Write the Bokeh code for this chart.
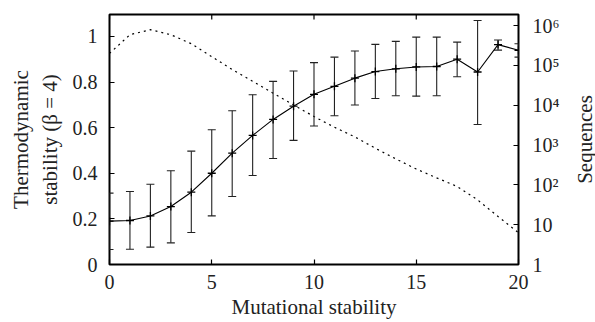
import math
from bokeh.plotting import figure
from bokeh.models import (Range1d, LogAxis, LogScale, FixedTicker, Label,
                          CustomJSTickFormatter, ColumnDataSource)
from bokeh.embed import file_html
from bokeh.resources import INLINE

# ---- data ----
mut_stab = list(range(21))
thermo_mean = [0.190, 0.193, 0.213, 0.254, 0.317, 0.400, 0.488, 0.566, 0.636, 0.694,
               0.746, 0.781, 0.817, 0.846, 0.858, 0.866, 0.868, 0.900, 0.844, 0.964, 0.939]
thermo_low = [0.066, 0.067, 0.076, 0.095, 0.140, 0.213, 0.298, 0.390, 0.465, 0.544,
              0.607, 0.652, 0.699, 0.728, 0.740, 0.738, 0.740, 0.823, 0.614, 0.940, 0.909]
thermo_high = [0.313, 0.320, 0.352, 0.411, 0.497, 0.591, 0.674, 0.744, 0.803, 0.848,
               0.885, 0.909, 0.936, 0.965, 0.978, 0.997, 0.997, 0.975, 1.070, 0.984, 0.968]
sequences = [2.0e5, 5.9e5, 7.9e5, 5.9e5, 3.5e5, 1.66e5, 7.9e4, 4.0e4, 2.0e4, 1.02e4,
             5.2e3, 2.8e3, 1.6e3, 830, 450, 250, 150, 91, 42, 16, 6.3]

left_ticks = [0, 0.2, 0.4, 0.6, 0.8, 1.0]
right_ticks = [1, 10, 100, 1e3, 1e4, 1e5, 1e6]
x_ticks = [0, 5, 10, 15, 20]

X_MAX = 20
Y_MAX = 1.096
SEQ_MIN, SEQ_MAX = 1, 1.9e6

FONT = "Liberation Serif"
INK = "#222222"

src = ColumnDataSource(dict(x=mut_stab, m=thermo_mean, lo=thermo_low, hi=thermo_high,
                            s=sequences))

p = figure(width=595, height=322, output_backend="svg", toolbar_location=None,
           x_range=Range1d(0, X_MAX), y_range=Range1d(0, Y_MAX),
           min_border_left=109, min_border_right=77, min_border_top=14,
           min_border_bottom=58)
p.extra_y_ranges = {"seq": Range1d(SEQ_MIN, SEQ_MAX)}
p.extra_y_scales = {"seq": LogScale()}
p.xgrid.visible = False
p.ygrid.visible = False
p.outline_line_color = "black"
p.outline_line_width = 2
p.background_fill_color = "white"
p.border_fill_color = "white"

def style(ax):
    ax.axis_line_color = None
    ax.major_tick_in = 5
    ax.major_tick_out = 0
    ax.minor_tick_in = 0
    ax.minor_tick_out = 0
    ax.major_tick_line_color = "black"
    ax.major_tick_line_width = 1.2
    ax.major_label_text_font = FONT
    ax.major_label_text_font_size = "20px"
    ax.major_label_text_color = INK
    ax.axis_label_text_font = FONT
    ax.axis_label_text_font_size = "21px"
    ax.axis_label_text_font_style = "normal"
    ax.axis_label_text_color = INK

# bottom x axis
xa = p.xaxis[0]
style(xa)
xa.ticker = FixedTicker(ticks=x_ticks)
xa.axis_label = "Mutational stability"
xa.major_label_standoff = 10
xa.axis_label_standoff = 3

# left y axis
ya = p.yaxis[0]
style(ya)
ya.ticker = FixedTicker(ticks=left_ticks)
ya.formatter = CustomJSTickFormatter(code="""
    const s = tick.toFixed(1);
    return s.endsWith('.0') ? s.slice(0, -2) : s;
""")
ya.axis_label = "Thermodynamic\nstability (\u03b2 = 4)"
ya.major_label_standoff = 12
ya.axis_label_standoff = 8

# right log axis
ra = LogAxis(y_range_name="seq", ticker=FixedTicker(ticks=right_ticks))
style(ra)
ra.formatter = CustomJSTickFormatter(code="""
    const e = Math.round(Math.log10(tick));
    const sup = ['\u2070','\u00b9','\u00b2','\u00b3','\u2074','\u2075','\u2076'];
    if (e == 0) return '1';
    if (e == 1) return '10';
    return '10' + sup[e];
""")
ra.major_label_standoff = 14
p.add_layout(ra, "right")

# right axis title, reading bottom-to-top (kept in the side panel so it is not clipped)
p.add_layout(Label(x=X_MAX, y=Y_MAX / 2, x_offset=66, text="Sequences",
                   angle=math.pi / 2, text_align="center", text_baseline="middle",
                   text_font=FONT, text_font_size="21px", text_color=INK), "right")

# mirrored x ticks along the top edge (inward, half clipped by the frame)
p.scatter(x=x_ticks, y=[Y_MAX] * len(x_ticks), marker="dash", angle=math.pi / 2,
          size=10, line_color="black", line_width=1.2)

# dotted sequences curve (right axis)
p.line("x", "s", source=src, y_range_name="seq", line_color="black",
       line_width=1.2, line_dash="2 4")

# error bars
p.segment("x", "lo", "x", "hi", source=src, line_color=INK, line_width=1.1)
p.scatter("x", "lo", source=src, marker="dash", size=8, line_color=INK, line_width=1.1)
p.scatter("x", "hi", source=src, marker="dash", size=8, line_color=INK, line_width=1.1)

# mean line with crosses
p.line("x", "m", source=src, line_color="black", line_width=1.1)
p.scatter("x", "m", source=src, marker="cross", size=8, line_color="black", line_width=1.3)

open("out.html", "w").write(file_html(p, INLINE))
